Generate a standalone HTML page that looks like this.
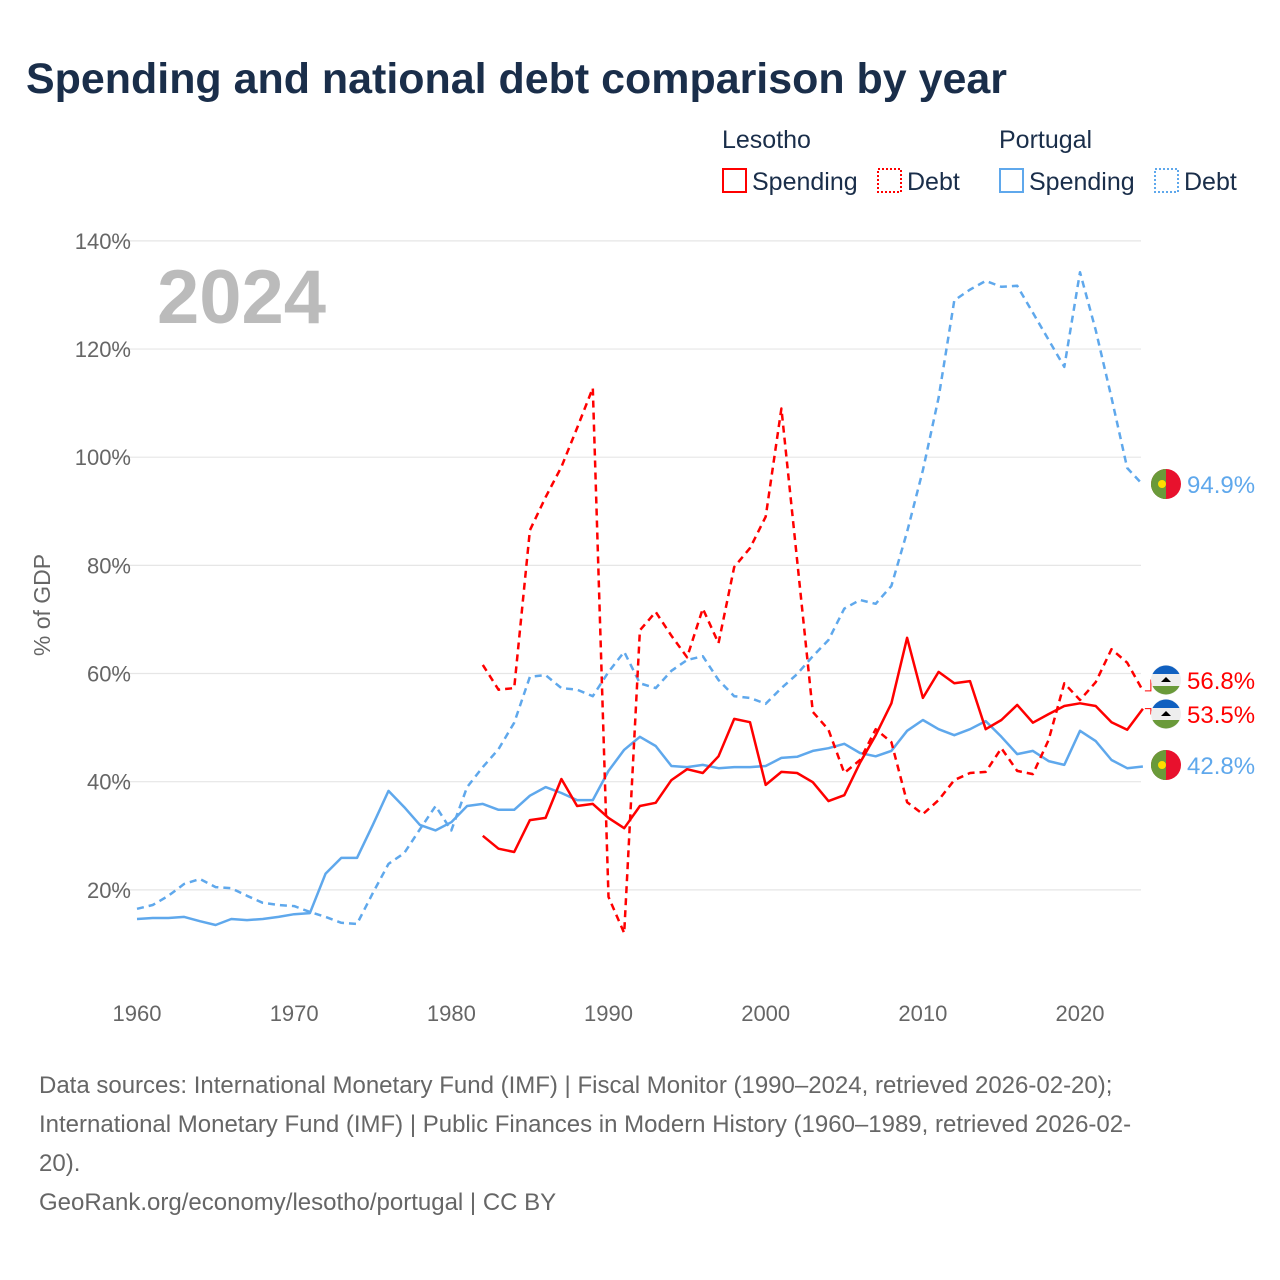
<!DOCTYPE html>
<html><head><meta charset="utf-8">
<style>
body{margin:0;background:#fff;font-family:"Liberation Sans",sans-serif;}
#wrap{position:relative;width:1280px;height:1280px;overflow:hidden;}
svg text{font-family:"Liberation Sans",sans-serif;}
</style></head>
<body><div id="wrap">
<svg id="chart" width="1280" height="1280">
<text x="26" y="93" font-size="42.5" font-weight="bold" fill="#1a2e4a" textLength="981" lengthAdjust="spacingAndGlyphs">Spending and national debt comparison by year</text>
<g font-size="25" fill="#333">
<text x="722" y="148" fill="#1a2e4a">Lesotho</text>
<text x="999" y="148" fill="#1a2e4a">Portugal</text>
<g><rect x="723" y="169" width="23" height="23" fill="none" stroke="#f00" stroke-width="2"/><text x="752" y="190" fill="#1a2e4a">Spending</text></g>
<g><rect x="878" y="169" width="23" height="23" fill="none" stroke="#f00" stroke-width="2" stroke-dasharray="2,2"/><text x="907" y="190" fill="#1a2e4a">Debt</text></g>
<g><rect x="1000" y="169" width="23" height="23" fill="none" stroke="#5fa8ec" stroke-width="2"/><text x="1029" y="190" fill="#1a2e4a">Spending</text></g>
<g><rect x="1155" y="169" width="23" height="23" fill="none" stroke="#5fa8ec" stroke-width="2" stroke-dasharray="2,2"/><text x="1184" y="190" fill="#1a2e4a">Debt</text></g>
</g>
<g id="grid"></g>
<text x="157" y="323" font-size="76" font-weight="bold" fill="#bbb">2024</text>
<text transform="translate(50,605) rotate(-90)" text-anchor="middle" font-size="23" fill="#666">% of GDP</text>
<g id="series"></g>
<g id="labels"></g>
<g font-size="24" fill="#666">
<text x="39" y="1093">Data sources: International Monetary Fund (IMF) | Fiscal Monitor (1990–2024, retrieved 2026-02-20);</text>
<text x="39" y="1132">International Monetary Fund (IMF) | Public Finances in Modern History (1960–1989, retrieved 2026-02-</text>
<text x="39" y="1171">20).</text>
<text x="39" y="1210">GeoRank.org/economy/lesotho/portugal | CC BY</text>
</g>
</svg></div>
<script>
const ptYears=[];for(let y=1960;y<=2024;y++)ptYears.push(y);
const lsYears=[];for(let y=1982;y<=2024;y++)lsYears.push(y);
const ptSpending=[14.6,14.8,14.8,15.0,14.2,13.5,14.6,14.4,14.6,15.0,15.5,15.7,23,25.9,25.9,32,38.3,35.3,32,31,32.5,35.5,35.9,34.8,34.8,37.4,39,37.9,36.6,36.6,42,45.9,48.3,46.6,42.9,42.7,43.1,42.5,42.7,42.7,42.9,44.4,44.6,45.7,46.2,47,45.3,44.7,45.7,49.4,51.4,49.7,48.6,49.7,51.2,48.3,45.1,45.7,43.8,43.1,49.4,47.5,44,42.5,42.8];
const ptDebt=[16.5,17.2,18.9,21.1,22,20.5,20.3,18.9,17.6,17.2,17,15.9,15,13.9,13.7,19.4,24.8,26.8,31.2,35.5,31,39,42.7,46,50.9,59.4,59.7,57.3,57,55.8,60.3,64,58.2,57.3,60.5,62.5,63.2,58.8,55.8,55.5,54.4,57.3,59.9,63.2,66.2,72,73.6,72.9,76.2,86.2,97.6,111,129,131,132.6,131.5,131.7,126.7,121.7,116.7,134.2,123.5,111,98,94.9];
const lsSpending=[30,27.6,27,32.9,33.3,40.5,35.5,35.9,33.3,31.4,35.5,36.1,40.3,42.3,41.6,44.7,51.6,51,39.4,41.8,41.6,39.9,36.4,37.5,43.5,48.6,54.5,66.6,55.5,60.3,58.2,58.6,49.7,51.4,54.2,50.9,52.5,54,54.5,54,51,49.6,53.5];
const lsDebt=[61.6,57,57.3,86.5,92.6,98.2,105.4,112.8,18.7,12,68,71.4,67,63,72,65.6,79.7,83.2,89,109,81,52.9,49.6,41.6,44,49.7,47.3,36.2,34,36.6,40.3,41.6,41.8,46.2,42,41.4,47.7,58.2,55.1,58.4,64.5,62,56.8];
const yTicks=[20,40,60,80,100,120,140];
const xTicks=[1960,1970,1980,1990,2000,2010,2020];
const NS='http://www.w3.org/2000/svg';
const X=yr=>137+(yr-1960)*15.717;
const Y=v=>998-v*5.408;
const grid=document.getElementById('grid'),series=document.getElementById('series'),labels=document.getElementById('labels');
function mk(tag,attrs,parent){const e=document.createElementNS(NS,tag);for(const k in attrs)e.setAttribute(k,attrs[k]);parent.appendChild(e);return e;}
yTicks.forEach(t=>{
 const l=mk('line',{x1:110,x2:1141,y1:Y(t),y2:Y(t),stroke:'#e6e6e6','stroke-width':1.2},grid);
 
 
 const tx=mk('text',{x:131,y:Y(t)+8,'text-anchor':'end','font-size':22,fill:'#666'},grid);
 tx.textContent=t+'%';
 
 
});
xTicks.forEach(t=>{
 const tx=mk('text',{x:X(t),y:1021,'text-anchor':'middle','font-size':22,fill:'#666'},grid);
 tx.textContent=t;
 
 
});
function line(years,vals,color,dash,name){
 const d=vals.map((v,i)=>(i?'L':'M')+X(years[i]).toFixed(1)+','+Y(v).toFixed(1)).join('');
 const p=mk('path',{d:d,fill:'none',stroke:color,'stroke-width':2.5,'stroke-linejoin':'round'},series);
 if(dash)p.setAttribute('stroke-dasharray','7,5');
 
 
}
line(ptYears,ptDebt,'#5fa8ec',true,'portugal-debt-line');
line(ptYears,ptSpending,'#5fa8ec',false,'portugal-spending-line');
line(lsYears,lsDebt,'#ff0000',true,'lesotho-debt-line');
line(lsYears,lsSpending,'#ff0000',false,'lesotho-spending-line');
function endLabel(val,ly,color,country,name){
 const g=mk('g',{},labels);
 
 
 const cx=1166;
 if(Math.abs(ly-Y(val))>2) mk('path',{d:`M${X(2024)+2},${Y(val)} h6 V${ly} h4`,fill:'none',stroke:color,'stroke-width':1},g);
 if(country==='pt'){
  mk('circle',{cx:cx,cy:ly,r:15,fill:'#e8112d'},g);
  mk('path',{d:`M${cx},${ly-15} A15,15 0 0 0 ${cx},${ly+15} Z`,fill:'#6a9a3a'},g);
  mk('path',{d:`M${cx-15},${ly} A15,15 0 0 0 ${cx},${ly+15} Z`,fill:'#6a9a3a'},g);
  mk('circle',{cx:cx-4,cy:ly,r:4,fill:'#fd0'},g);
 }else{
  mk('circle',{cx:cx,cy:ly,r:15,fill:'#eee'},g);
  mk('path',{d:`M${cx-13.5},${ly-6} A15,15 0 0 1 ${cx+13.5},${ly-6} Z`,fill:'#1060c0'},g);
  mk('path',{d:`M${cx-13.5},${ly+6} A15,15 0 0 0 ${cx+13.5},${ly+6} Z`,fill:'#6a9a3a'},g);
  mk('path',{d:`M${cx-5},${ly+2} h10 l-5,-5 z`,fill:'#000'},g);
 }
 const t=mk('text',{x:1187,y:ly+9,'font-size':24,fill:color},g);
 t.textContent=val.toFixed(1)+'%';
}
endLabel(ptDebt[ptDebt.length-1],484,'#5fa8ec','pt','label-portugal-debt');
endLabel(lsDebt[lsDebt.length-1],680,'#ff0000','ls','label-lesotho-debt');
endLabel(lsSpending[lsSpending.length-1],714,'#ff0000','ls','label-lesotho-spending');
endLabel(ptSpending[ptSpending.length-1],765,'#5fa8ec','pt','label-portugal-spending');
</script>
</body></html>
